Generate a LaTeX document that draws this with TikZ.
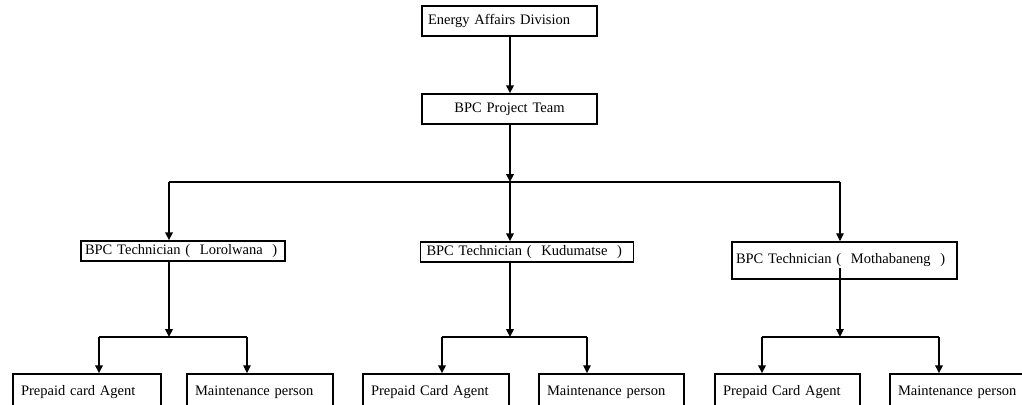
\documentclass[tikz,border=0pt]{standalone}
\usepackage{fontspec}
\setmainfont{Liberation Serif}
\usetikzlibrary{arrows.meta}
\tikzset{
  box/.style={draw, line width=1.5pt, inner xsep=6pt, inner ysep=0pt, align=left, font=\fontsize{14.5}{16}\selectfont},
  thick link/.style={line width=2.6pt, -{Triangle[length=8pt,width=7.5pt]}},
  thin link/.style={line width=1.4pt, -{Triangle[length=8pt,width=7.5pt]}},
  bar/.style={line width=1.6pt},
}
\begin{document}
\begin{tikzpicture}[x=1pt,y=-1pt]
\useasboundingbox[fill=white] (0,0) rectangle (1022,404);
% top
\node[box, text width=163pt, minimum height=30pt] (E) at (509.5,21) {Energy Affairs Division};
\node[box, text width=163pt, minimum height=30pt, align=center] (P) at (509.5,109) {BPC Project Team};
% technicians
\node[box, inner xsep=4pt, text width=196pt, minimum height=20pt] (T1) at (183,251) {\mbox{BPC Technician (~~Lorolwana~~)}};
\node[box, inner xsep=6pt, text width=201pt, minimum height=20pt] (T2) at (527,252) {\mbox{BPC Technician (~~Kudumatse~~)}};
\node[box, inner xsep=4pt, text width=217pt, minimum height=37pt] (T3) at (844.5,260.5) {\mbox{BPC Technician (~~Mothabaneng~~)}};
% bottom row
\node[box, text width=132pt, minimum height=36pt, inner xsep=8pt] (A1) at (87,392) {Prepaid card Agent};
\node[box, text width=130pt, minimum height=36pt, inner xsep=8pt] (M1) at (260,392) {Maintenance person};
\node[box, text width=130pt, minimum height=36pt, inner xsep=8pt] (A2) at (436,392) {Prepaid Card Agent};
\node[box, text width=129pt, minimum height=36pt, inner xsep=8pt] (M2) at (611.5,392) {Maintenance person};
\node[box, text width=129pt, minimum height=36pt, inner xsep=8pt] (A3) at (787.5,392) {Prepaid Card Agent};
\node[box, text width=125pt, minimum height=36pt, inner xsep=8pt] (M3) at (960.5,392) {Maintenance person};
% junction coordinates
\coordinate (J0) at (510,182);
\coordinate (J1) at (169,337);
\coordinate (J2) at (510,337);
\coordinate (J3) at (840,337);
\coordinate (xA1) at (99,0);
\coordinate (xM1) at (247,0);
\coordinate (xA2) at (442,0);
\coordinate (xM2) at (587,0);
\coordinate (xA3) at (762,0);
\coordinate (xM3) at (939,0);
% top links
\draw[thick link] (E.south -| J0) -- (P.north -| J0);
\draw[thick link] (P.south -| J0) -- (J0);
\draw[bar] (J0 -| J1) -- (J0 -| J3);
\draw[thick link] (J0 -| J1) -- (T1.north -| J1);
\draw[thick link] (J0) -- (T2.north -| J0);
\draw[thin link] (J0 -| J3) -- (T3.north -| J3);
% group 1
\draw[thick link] (T1.south -| J1) -- (J1);
\draw[bar] (J1 -| xA1) -- (J1 -| xM1);
\draw[thick link] (J1 -| xA1) -- (A1.north -| xA1);
\draw[thin link] (J1 -| xM1) -- (M1.north -| xM1);
% group 2
\draw[thick link] (T2.south -| J2) -- (J2);
\draw[bar] (J2 -| xA2) -- (J2 -| xM2);
\draw[thick link] (J2 -| xA2) -- (A2.north -| xA2);
\draw[thin link] (J2 -| xM2) -- (M2.north -| xM2);
% group 3
\draw[thin link] ([yshift=12pt]T3.south -| J3) -- (J3);
\draw[bar] (J3 -| xA3) -- (J3 -| xM3);
\draw[thick link] (J3 -| xA3) -- (A3.north -| xA3);
\draw[thick link] (J3 -| xM3) -- (M3.north -| xM3);
\end{tikzpicture}
\end{document}
